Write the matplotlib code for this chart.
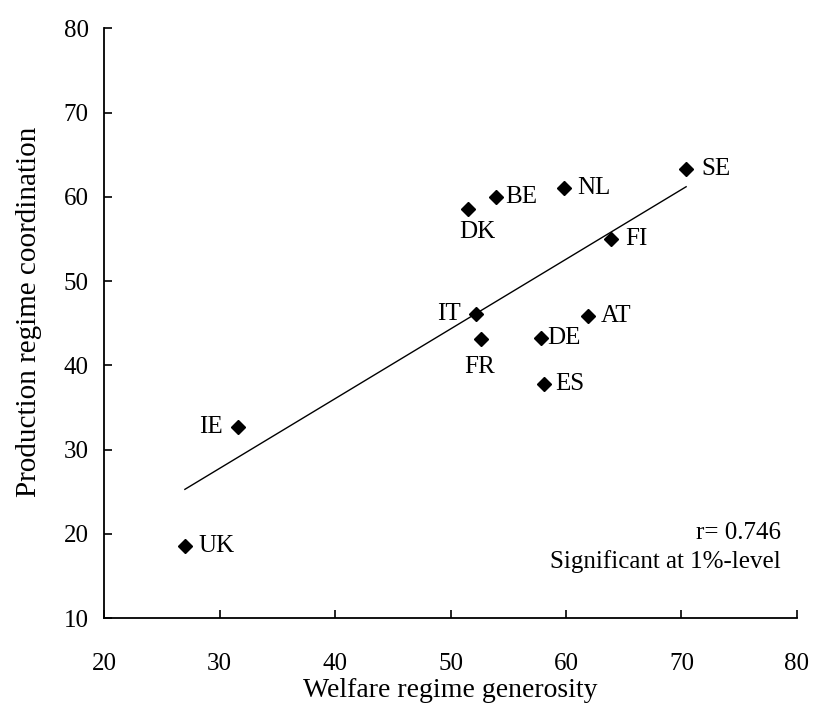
import numpy as np
import matplotlib.pyplot as plt

plt.rcParams['font.family'] = ['Liberation Serif', 'DejaVu Serif']

countries = ['SE', 'NL', 'BE', 'DK', 'FI', 'IT', 'AT', 'DE', 'FR', 'ES', 'IE', 'UK']
welfare = [70.4, 59.8, 53.9, 51.5, 63.9, 52.2, 61.9, 57.8, 52.6, 58.1, 31.6, 27.0]
coordination = [63.3, 61.1, 60.0, 58.6, 55.0, 46.1, 45.9, 43.3, 43.1, 37.8, 32.7, 18.6]

# label offsets in points (dx, dy, ha)
label_pos = {
    'SE': (11, 0, 'left'), 'NL': (10, 0, 'left'), 'BE': (7, 0, 'left'),
    'DK': (7, -17, 'center'), 'FI': (10, 0, 'left'), 'IT': (-11, 0, 'right'),
    'AT': (9, 0, 'left'), 'DE': (5, 0, 'left'), 'FR': (-1, -20, 'center'),
    'ES': (8, 0, 'left'), 'IE': (-11, 0, 'right'), 'UK': (10, 0, 'left'),
}

fs = 18

fig = plt.figure(figsize=(8.14, 7.18), dpi=100)
ax = fig.add_axes([0.1278, 0.1389, 0.8513, 0.8218])

x = np.array(welfare)
y = np.array(coordination)
ax.plot(x, y, 'D', color='black', markersize=7, zorder=3)

# linear trend
b, a = np.polyfit(x, y, 1)
xs = np.array([x.min(), x.max()])
ax.plot(xs, a + b * xs, color='black', lw=1.0)

for c, xi, yi in zip(countries, x, y):
    dx, dy, ha = label_pos[c]
    ax.annotate(c, (xi, yi), xytext=(dx, dy), textcoords='offset points',
                ha=ha, va='center', fontsize=fs)

ax.text(0.977, 0.144, 'r= 0.746', transform=ax.transAxes, ha='right',
        va='center', fontsize=fs)
ax.text(0.977, 0.097, 'Significant at 1%-level', transform=ax.transAxes,
        ha='right', va='center', fontsize=fs)

ax.set_xlim(20, 80)
ax.set_ylim(10, 80)
ax.set_xticks(range(20, 81, 10))
ax.set_yticks(range(10, 81, 10))
ax.spines['top'].set_visible(False)
ax.spines['right'].set_visible(False)
ax.spines['left'].set_linewidth(1.3)
ax.spines['bottom'].set_linewidth(1.3)
ax.tick_params(axis='both', direction='in', length=6, width=1.2, labelsize=fs)
ax.tick_params(axis='x', pad=25)
ax.tick_params(axis='y', pad=11)

ax.set_xlabel('Welfare regime generosity', fontsize=20, labelpad=2)
ax.set_ylabel('Production regime coordination', fontsize=21)
ax.yaxis.set_label_coords(-0.089, 0.52)

fig.savefig('out.png', dpi=100)
